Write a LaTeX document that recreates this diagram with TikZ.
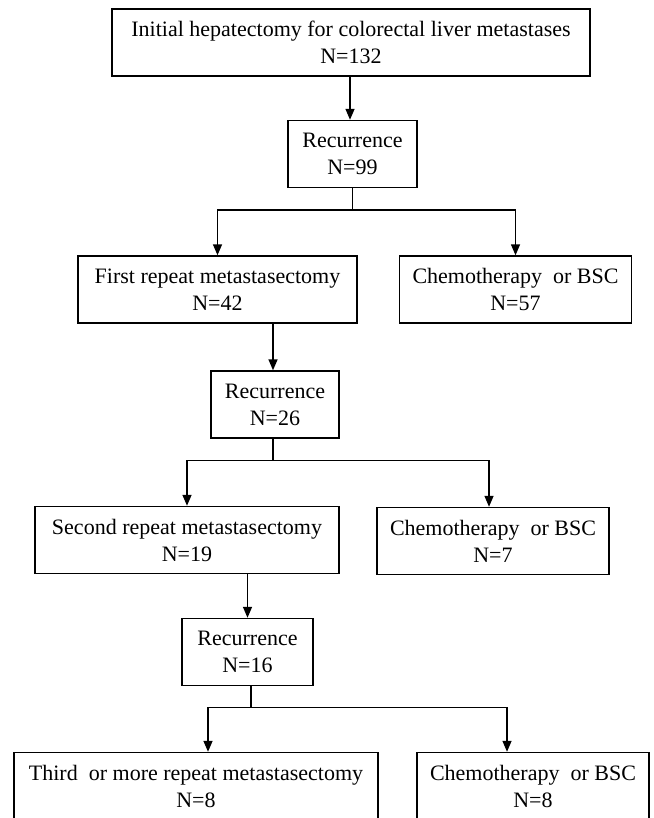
\documentclass[tikz,border=0pt]{standalone}
\usepackage{fontspec}
\setmainfont{Liberation Serif}
\usetikzlibrary{positioning, arrows.meta, calc}

\begin{document}
\begin{tikzpicture}[
    x=1pt, y=-1pt,
    >={Triangle[length=11pt,width=9pt]},
    line width=1.4pt,
    arrow/.style={
        ->,
        line width=1.4pt
    },
    box/.style={
        rectangle,
        draw,
        line width=1.4pt,
        align=center,
        inner sep=0pt,
        minimum height=67pt,
        font=\fontsize{22}{27}\selectfont
    },
    recur/.style={
        box,
        minimum width=129pt
    },
    treat/.style={
        box,
        minimum width=232pt
    }
]

    \useasboundingbox (0,0) rectangle (653,818);

    % Initial surgery
    \node[box, minimum width=478pt] (init) at (351,42.5)
        {Initial hepatectomy for colorectal liver metastases\\N=132};

    % Recurrence 1
    \node[recur] (rec1) at (352.5,154) {Recurrence\\N=99};
    \draw[arrow] (init.south -| 350,0) -- (rec1.north -| 350,0);

    % First repeat
    \node[box, minimum width=279pt] (first) at (217.5,289.5)
        {First repeat metastasectomy\\N=42};
    \node[treat] (chemo1) at (515.5,289.5) {Chemotherapy~ or BSC\\N=57};
    \coordinate (b1) at ($(rec1.south)+(0,22)$);
    \draw (rec1.south) -- (b1);
    \draw[arrow] (b1) -| (first.north);
    \draw[arrow] (b1) -| (chemo1.north);

    % Recurrence 2
    \node[recur, minimum width=128pt] (rec2) at (275,404.5) {Recurrence\\N=26};
    \draw[arrow] (first.south -| 273,0) -- (rec2.north -| 273,0);

    % Second repeat
    \node[box, minimum width=304pt] (second) at (187,540)
        {Second repeat metastasectomy\\N=19};
    \node[treat] (chemo2) at (493,541) {Chemotherapy~ or BSC\\N=7};
    \coordinate (b2) at ($(rec2.south -| 273,0)+(0,22)$);
    \draw (rec2.south -| 273,0) -- (b2);
    \draw[arrow] (b2) -| (second.north);
    \draw[arrow] (b2) -| ([xshift=-4pt]chemo2.north);

    % Recurrence 3
    \node[recur, minimum width=131pt] (rec3) at (247.5,652) {Recurrence\\N=16};
    \draw[arrow] (second.south -| rec3.north) -- (rec3.north);

    % Third or more repeat
    \node[box, minimum width=364pt] (third) at (196,786)
        {Third~ or more repeat metastasectomy\\N=8};
    \node[treat] (chemo3) at (533,786) {Chemotherapy~ or BSC\\N=8};
    \coordinate (b3) at ($(rec3.south -| 251,0)+(0,21)$);
    \draw (rec3.south -| 251,0) -- (b3);
    \draw[arrow] (b3) -| ([xshift=12pt]third.north);
    \draw[arrow] (b3) -| ([xshift=-26pt]chemo3.north);

\end{tikzpicture}
\end{document}
